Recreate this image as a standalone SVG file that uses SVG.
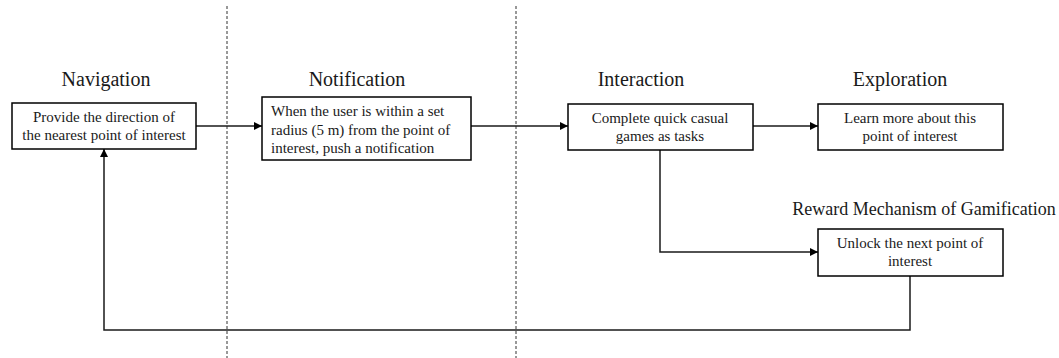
<svg xmlns="http://www.w3.org/2000/svg" width="1059" height="358" viewBox="0 0 1059 358">
<style>
.box{fill:#fff;stroke:#000;stroke-width:1.5}
.title{font-family:"Liberation Serif",serif;font-size:20px;fill:#1a1a1a;text-anchor:middle}
.title2{font-family:"Liberation Serif",serif;font-size:18px;fill:#1a1a1a;text-anchor:middle}
.txt{font-family:"Liberation Serif",serif;font-size:15px;fill:#1a1a1a;text-anchor:middle}
.txtl{font-family:"Liberation Serif",serif;font-size:15px;fill:#1a1a1a}
.con{fill:none;stroke:#1a1a1a;stroke-width:1.5}
.sep{stroke:#333;stroke-width:1;stroke-dasharray:3 2}
</style>
<defs>
<marker id="arr" viewBox="0 0 10 10" refX="10" refY="5" markerWidth="8" markerHeight="8" markerUnits="userSpaceOnUse" orient="auto">
<path d="M0,0 L10,5 L0,10 z" fill="#000"/>
</marker>
</defs>
<rect width="1059" height="358" fill="#fff"/>
<g id="separators">
<line class="sep" x1="227" y1="6" x2="227" y2="358"/>
<line class="sep" x1="516" y1="6" x2="516" y2="358"/>
</g>
<g id="connectors">
<line class="con" x1="196" y1="126" x2="262" y2="126" marker-end="url(#arr)"/>
<line class="con" x1="471" y1="126" x2="568" y2="126" marker-end="url(#arr)"/>
<line class="con" x1="753" y1="126" x2="818" y2="126" marker-end="url(#arr)"/>
<polyline class="con" points="660,150 660,252 818,252" marker-end="url(#arr)"/>
<polyline class="con" points="910,276 910,330 104,330 104,149" marker-end="url(#arr)"/>
</g>
<g id="navigation">
<text class="title" x="106" y="86">Navigation</text>
<rect class="box" x="12" y="103" width="184" height="46"/>
<text class="txt" x="104" y="122">Provide the direction of</text>
<text class="txt" x="104" y="140">the nearest point of interest</text>
</g>
<g id="notification">
<text class="title" x="357" y="86">Notification</text>
<rect class="box" x="262" y="97" width="209" height="63"/>
<text class="txtl" x="271" y="116">When the user is within a set</text>
<text class="txtl" x="271" y="134.5">radius (5 m) from the point of</text>
<text class="txtl" x="271" y="153">interest, push a notification</text>
</g>
<g id="interaction">
<text class="title" x="641" y="86">Interaction</text>
<rect class="box" x="568" y="104" width="185" height="46"/>
<text class="txt" x="660" y="123">Complete quick casual</text>
<text class="txt" x="660" y="141">games as tasks</text>
</g>
<g id="exploration">
<text class="title" x="900" y="86">Exploration</text>
<rect class="box" x="818" y="104" width="185" height="46"/>
<text class="txt" x="910" y="123">Learn more about this</text>
<text class="txt" x="910" y="141">point of interest</text>
</g>
<g id="reward">
<text class="title2" x="924" y="215">Reward Mechanism of Gamification</text>
<rect class="box" x="818" y="229" width="185" height="47"/>
<text class="txt" x="910" y="248">Unlock the next point of</text>
<text class="txt" x="910" y="266">interest</text>
</g>
</svg>
